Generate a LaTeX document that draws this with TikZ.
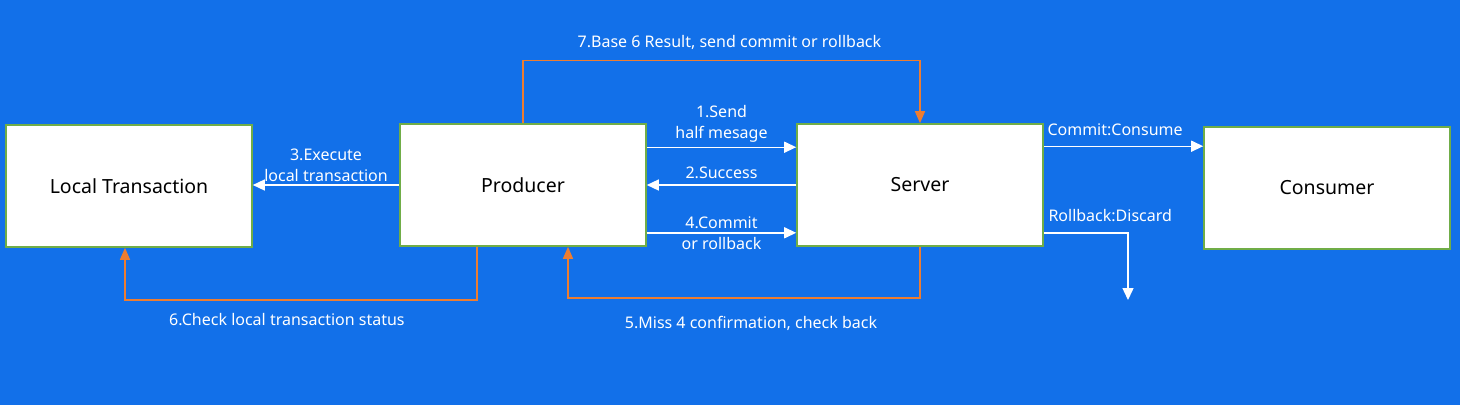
\documentclass[tikz,border=0pt]{standalone}
\usepackage{fontspec}
\setmainfont{Noto Sans}
\usepackage{tikz}
\usetikzlibrary{arrows.meta}
\definecolor{bgblue}{RGB}{18,112,233}
\definecolor{boxgreen}{RGB}{112,173,71}
\definecolor{checkorange}{RGB}{237,125,49}
\tikzstyle{block} = [rectangle, draw=boxgreen, fill=white, line width=1.6pt,
    minimum width=246pt, minimum height=122pt, inner sep=0pt, font=\fontsize{19.5}{22}\selectfont]
\tikzstyle{msg} = [draw=white, line width=1.4pt, -{Triangle[length=12pt,width=11pt]}]
\tikzstyle{check} = [draw=checkorange, line width=1.4pt, -{Triangle[length=12pt,width=10pt]}]
\tikzstyle{lbl} = [text=white, align=center, font=\fontsize{16}{21}\selectfont, inner sep=2pt]

\begin{document}
\begin{tikzpicture}[x=1pt, y=-1pt]
    \fill[bgblue] (0,0) rectangle (1460,405);
    \useasboundingbox (0,0) rectangle (1460,405);

    \node[block] (local) at (129,186) {Local Transaction};
    \node[block] (producer) at (523,185) {Producer};
    \node[block] (server) at (920,185) {Server};
    \node[block] (consumer) at (1327,188) {Consumer};
    \coordinate (discard) at (1128,300);

    \path [msg] ([yshift=-24pt]producer.north east) -- node[lbl, above, yshift=2pt] {1.Send\\half mesage} ([yshift=-24pt]producer.north east -| server.west);
    \path [msg] (server.west) -- node[lbl, above, yshift=4pt] {2.Success} (server.west -| producer.east);
    \path [msg] (producer.west) -- node[lbl, above, inner sep=1pt, yshift=2pt] {3.Execute\\local transaction} (producer.west -| local.east);
    \path [msg] ([yshift=14pt]producer.south east) -- node[lbl] {4.Commit\\or rollback} ([yshift=14pt]producer.south east -| server.west);
    \path [msg] ([yshift=-23pt]server.north east) -- node[lbl, pos=0, above right, xshift=1pt, yshift=8pt] {Commit:Consume} ([yshift=-23pt]server.north east -| consumer.west);
    \path [msg] ([yshift=14pt]server.south east) node[lbl, above right, xshift=2pt, yshift=8pt] {Rollback:Discard} -| (discard);

    \path [check] (server.south) -- ++(0,51) -| node[lbl, pos=0.24, below, yshift=-16pt] {5.Miss 4 confirmation, check back} ([xshift=45pt]producer.south);
    \path [check] ([xshift=-46pt]producer.south) -- ++(0,53) -| node[lbl, pos=0.27, below, yshift=-11pt] {6.Check local transaction status} ([xshift=-4pt]local.south);
    \path [check] (producer.north) -- ++(0,-63) -| node[lbl, pos=0.26, above, yshift=8pt] {7.Base 6 Result, send commit or rollback} (server.north);
\end{tikzpicture}
\end{document}
